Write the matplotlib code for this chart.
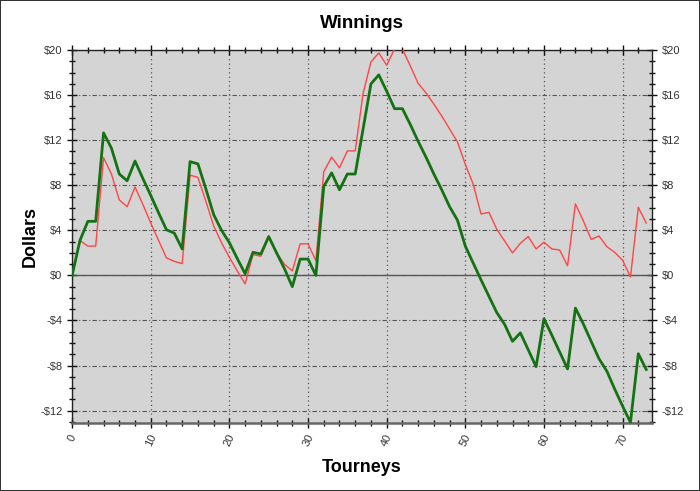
import numpy as np
import matplotlib
matplotlib.use("Agg")
import matplotlib.pyplot as plt
from matplotlib.ticker import MultipleLocator, FuncFormatter

# winnings after each tourney
green_vals = [0, 3.1, 4.8, 4.8, 12.65, 11.3, 9.0, 8.4, 10.15, 8.6,
              7.1, 5.55, 4.05, 3.75, 2.35, 10.1, 9.9, 7.7, 5.4, 4.0,
              2.9, 1.5, 0.15, 2.05, 1.9, 3.45, 2.0, 0.6, -1.0, 1.45,
              1.45, 0.0, 7.9, 9.1, 7.6, 9.0, 9.0, 13.0, 17.0, 17.8,
              16.35, 14.8, 14.8, 13.4, 11.9, 10.5, 9.0, 7.6, 6.1, 4.9,
              2.6, 1.1, -0.4, -1.85, -3.3, -4.35, -5.85, -5.1, -6.6, -8.1,
              -3.85, -5.3, -6.8, -8.3, -2.9, -4.3, -5.85, -7.4, -8.5, -10.1,
              -11.6, -13.05, -6.95, -8.35]
red_vals = [0, 3.1, 2.6, 2.6, 10.45, 9.0, 6.7, 6.1, 7.85, 6.3,
            4.65, 3.1, 1.55, 1.25, 1.05, 8.9, 8.7, 6.6, 4.4, 2.9,
            1.6, 0.4, -0.75, 1.85, 1.7, 3.35, 2.0, 1.0, 0.4, 2.8,
            2.8, 1.3, 9.2, 10.5, 9.55, 11.05, 11.05, 16.15, 18.95, 19.75,
            18.65, 20.1, 20.1, 18.6, 17.05, 16.2, 15.2, 14.15, 13.0, 11.85,
            9.85, 8.1, 5.45, 5.6, 4.1, 3.05, 2.0, 2.85, 3.45, 2.35,
            2.95, 2.35, 2.25, 0.85, 6.35, 4.85, 3.2, 3.5, 2.55, 2.05,
            1.35, -0.15, 6.05, 4.65]
tourneys = np.arange(len(green_vals))

plt.rcParams['font.family'] = ['Liberation Sans', 'DejaVu Sans']

fig = plt.figure(figsize=(7, 4.91), dpi=100, edgecolor='#333333', linewidth=1.2)
ax = fig.add_axes([0.103, 0.1385, 0.828, 0.7595])
ax.set_facecolor('#d4d4d4')

ax.plot(tourneys, red_vals, color='#ff4545', lw=1.0, zorder=3)
ax.plot(tourneys, green_vals, color='#137313', lw=2.0, zorder=4)
ax.axhline(0, color='#555555', lw=1.0, zorder=2)

ax.set_xlim(0, 73.7)
ax.set_ylim(-13.1, 20)

ax.xaxis.set_major_locator(MultipleLocator(10))
ax.xaxis.set_minor_locator(MultipleLocator(2))
ax.yaxis.set_major_locator(MultipleLocator(4))
ax.yaxis.set_minor_locator(MultipleLocator(1))

def dollars(v, pos):
    v = int(round(v))
    return '-$%d' % abs(v) if v < 0 else '$%d' % v

ax.yaxis.set_major_formatter(FuncFormatter(dollars))

ax.grid(True, which='major', axis='y', color='#555555', ls=(0, (4, 2, 1, 2)), lw=0.8)
ax.grid(True, which='major', axis='x', color='#555555', ls=(0, (1, 2.5)), lw=0.9)
ax.set_axisbelow(True)

ax.tick_params(which='both', direction='inout', top=True, right=True,
               labelright=True, colors='#111111', labelcolor='#333333',
               labelsize=8)
ax.tick_params(which='major', length=7, width=1)
ax.tick_params(which='minor', length=4, width=1)
for lab in ax.get_xticklabels():
    lab.set_rotation(65)

for s in ax.spines.values():
    s.set_color('#222222')
    s.set_linewidth(1.0)
ax.spines['bottom'].set_color('#666666')
ax.spines['bottom'].set_linewidth(1.8)

ax.set_title('Winnings', fontsize=13.5, fontweight='bold', pad=16)
ax.set_xlabel('Tourneys', fontsize=13, fontweight='bold', labelpad=8)
ax.set_ylabel('Dollars', fontsize=13, fontweight='bold', labelpad=1)

fig.savefig('out.png', dpi=100)
